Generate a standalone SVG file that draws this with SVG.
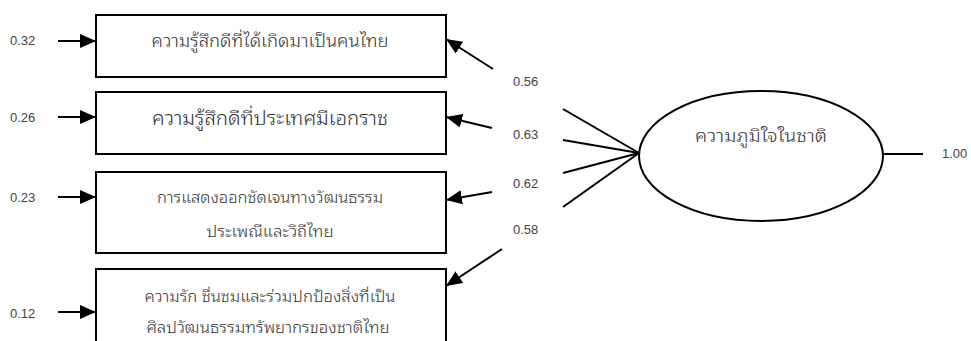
<svg xmlns="http://www.w3.org/2000/svg" width="971" height="341" viewBox="0 0 971 341">
<style>
.box{fill:#fff;stroke:#000;stroke-width:2}
.ln{fill:none;stroke:#000;stroke-width:2}
.num{font-family:"Liberation Sans",Arial,sans-serif;font-size:13px;fill:#444}
.th{font-family:"Noto Sans Thai Looped","Garuda","Loma","Norasi","Noto Serif Thai","Noto Sans Thai","Noto Sans",sans-serif;font-weight:300;fill:#333;text-anchor:middle}
</style>
<defs>
<marker id="ah" markerUnits="userSpaceOnUse" viewBox="0 0 16 14" refX="16" refY="7" markerWidth="16" markerHeight="14" orient="auto">
<path d="M0,0 L16,7 L0,14 Z" fill="#000"/>
</marker>
</defs>
<rect width="971" height="341" fill="#fff"/>
<g id="node-1">
<rect class="box" x="96" y="15" width="350" height="62"/>
<text class="th" x="270" y="47" font-size="17" textLength="237" lengthAdjust="spacingAndGlyphs">ความรู้สึกดีที่ได้เกิดมาเป็นคนไทย</text>
</g>
<g id="node-2">
<rect class="box" x="96" y="92" width="350" height="62"/>
<text class="th" x="270" y="125" font-size="19" textLength="236" lengthAdjust="spacingAndGlyphs">ความรู้สึกดีที่ประเทศมีเอกราช</text>
</g>
<g id="node-3">
<rect class="box" x="96" y="172" width="350" height="81"/>
<text class="th" x="270" y="203" font-size="15" textLength="226" lengthAdjust="spacingAndGlyphs">การแสดงออกชัดเจนทางวัฒนธรรม</text>
<text class="th" x="270" y="237" font-size="15" textLength="127" lengthAdjust="spacingAndGlyphs">ประเพณีและวิถีไทย</text>
</g>
<g id="node-4">
<rect class="box" x="96" y="269" width="350" height="90"/>
<text class="th" x="270" y="302" font-size="15" textLength="251" lengthAdjust="spacingAndGlyphs">ความรัก ชื่นชมและร่วมปกป้องสิ่งที่เป็น</text>
<text class="th" x="268" y="333" font-size="15" textLength="243" lengthAdjust="spacingAndGlyphs">ศิลปวัฒนธรรมทรัพยากรของชาติไทย</text>
</g>
<g id="node-latent">
<ellipse class="box" cx="761" cy="156" rx="122" ry="65"/>
<text class="th" x="761" y="142" font-size="17" textLength="132" lengthAdjust="spacingAndGlyphs">ความภูมิใจในชาติ</text>
</g>
<g id="connectors">
<line class="ln" x1="58" y1="41" x2="96" y2="41" marker-end="url(#ah)"/>
<line class="ln" x1="58" y1="117" x2="96" y2="117" marker-end="url(#ah)"/>
<line class="ln" x1="58" y1="197" x2="96" y2="197" marker-end="url(#ah)"/>
<line class="ln" x1="58" y1="312" x2="96" y2="312" marker-end="url(#ah)"/>
<line class="ln" x1="493" y1="69" x2="446" y2="39" marker-end="url(#ah)"/>
<line class="ln" x1="492" y1="128" x2="446" y2="117" marker-end="url(#ah)"/>
<line class="ln" x1="492" y1="192" x2="446" y2="200" marker-end="url(#ah)"/>
<line class="ln" x1="502" y1="249" x2="446" y2="286" marker-end="url(#ah)"/>
<line class="ln" x1="563" y1="109" x2="639" y2="153"/>
<line class="ln" x1="563" y1="140" x2="639" y2="153"/>
<line class="ln" x1="563" y1="173" x2="639" y2="153"/>
<line class="ln" x1="563" y1="207" x2="639" y2="153"/>
<line class="ln" x1="883" y1="154" x2="923" y2="154"/>
</g>
<g id="labels">
<text class="num" x="10" y="45">0.32</text>
<text class="num" x="10" y="122">0.26</text>
<text class="num" x="10" y="202">0.23</text>
<text class="num" x="10" y="318">0.12</text>
<text class="num" x="513" y="86">0.56</text>
<text class="num" x="513" y="139">0.63</text>
<text class="num" x="513" y="188">0.62</text>
<text class="num" x="513" y="234">0.58</text>
<text class="num" x="942" y="158">1.00</text>
</g>
</svg>
